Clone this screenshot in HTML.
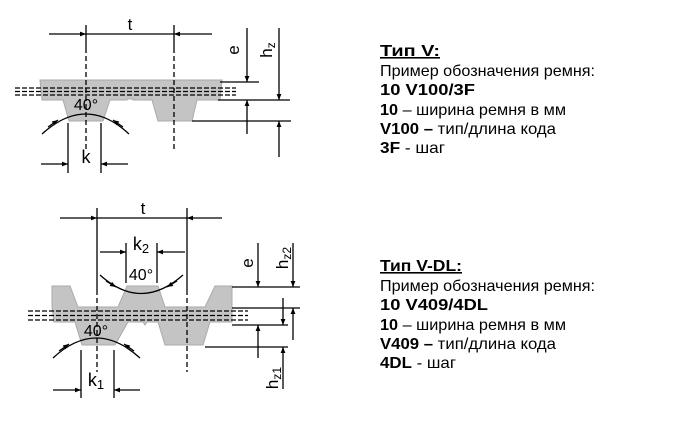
<!DOCTYPE html>
<html><head><meta charset="utf-8"><style>
html,body{margin:0;padding:0;background:#fff;}
svg{display:block}
text{font-family:"Liberation Sans",sans-serif;}
</style></head><body>
<svg width="683" height="428" viewBox="0 0 683 428" xmlns="http://www.w3.org/2000/svg">
<defs>
<marker id="a" viewBox="0 0 10 10" refX="10" refY="5" markerWidth="8" markerHeight="6" orient="auto-start-reverse" markerUnits="userSpaceOnUse"><path d="M0,1 L10,5 L0,9 z" fill="#000"/></marker>
</defs>
<g stroke="#000" stroke-width="1.3" fill="none">
<polygon points="40,80 222,80 220,100 197,100 192,121 158,121 152,100 133,100 133,99 127,99 127,100 110,100 103,121 69,121 63,100 42,100" fill="#c4c4c4" stroke="#aaa" stroke-width="1"/>
<line x1="15" y1="88" x2="236" y2="88" stroke-dasharray="5,2"/>
<line x1="15" y1="91.5" x2="236" y2="91.5" stroke-dasharray="5,2"/>
<line x1="15" y1="95" x2="236" y2="95" stroke-dasharray="5,2"/>
<line x1="86" y1="25" x2="86" y2="48"/>
<line x1="86" y1="48" x2="86" y2="150" stroke-dasharray="5,3"/>
<line x1="174" y1="25" x2="174" y2="48"/>
<line x1="174" y1="48" x2="174" y2="150" stroke-dasharray="5,3"/>
<line x1="49" y1="34" x2="86" y2="34" marker-end="url(#a)"/>
<line x1="86" y1="34" x2="174" y2="34"/>
<line x1="212" y1="34" x2="174" y2="34" marker-end="url(#a)"/>
<path d="M42,134 Q86,94 129,134"/>
<path d="M48,127 L58,120" marker-end="url(#a)"/>
<path d="M123,127 L113,120" marker-end="url(#a)"/>
<line x1="68" y1="123" x2="68" y2="173"/>
<line x1="101" y1="123" x2="101" y2="173"/>
<line x1="41" y1="164" x2="68" y2="164" marker-end="url(#a)"/>
<line x1="128" y1="164" x2="101" y2="164" marker-end="url(#a)"/>
<line x1="220" y1="82" x2="259" y2="82"/>
<line x1="218" y1="100" x2="290" y2="100"/>
<line x1="192" y1="121" x2="291" y2="121"/>
<line x1="247" y1="28" x2="247" y2="82" marker-end="url(#a)"/>
<line x1="247" y1="134" x2="247" y2="100" marker-end="url(#a)"/>
<line x1="279" y1="28" x2="279" y2="100" marker-end="url(#a)"/>
<line x1="279" y1="157" x2="279" y2="121" marker-end="url(#a)"/>
<polygon points="52,286 70,286 78,307 118,307 127,286 158,286 165,307 205,307 215,286 232,286 232,322 210,322 203,345 165,345 158,322 147,322 145,325 143,322 128,322 115,345 82,345 75,322 54,322 52,307" fill="#c4c4c4" stroke="#aaa" stroke-width="1"/>
<line x1="28" y1="311" x2="248" y2="311" stroke-dasharray="5,2"/>
<line x1="28" y1="315.5" x2="248" y2="315.5" stroke-dasharray="5,2"/>
<line x1="28" y1="320" x2="248" y2="320" stroke-dasharray="5,2"/>
<line x1="97" y1="208" x2="97" y2="290"/>
<line x1="97" y1="290" x2="97" y2="372" stroke-dasharray="5,3"/>
<line x1="187" y1="208" x2="187" y2="290"/>
<line x1="187" y1="290" x2="187" y2="372" stroke-dasharray="5,3"/>
<line x1="60" y1="218" x2="97" y2="218" marker-end="url(#a)"/>
<line x1="97" y1="218" x2="187" y2="218"/>
<line x1="222" y1="218" x2="187" y2="218" marker-end="url(#a)"/>
<line x1="126" y1="243" x2="126" y2="283"/>
<line x1="157" y1="243" x2="157" y2="283"/>
<line x1="100" y1="252" x2="126" y2="252" marker-end="url(#a)"/>
<line x1="185" y1="252" x2="157" y2="252" marker-end="url(#a)"/>
<path d="M100,275 Q141,312 183,275"/>
<path d="M106,281 L116,287" marker-end="url(#a)"/>
<path d="M177,281 L167,287" marker-end="url(#a)"/>
<path d="M53,358 Q96,318 140,358"/>
<path d="M59,351 L69,344" marker-end="url(#a)"/>
<path d="M134,351 L124,344" marker-end="url(#a)"/>
<line x1="81" y1="350" x2="81" y2="398"/>
<line x1="114" y1="350" x2="114" y2="398"/>
<line x1="53" y1="390" x2="81" y2="390" marker-end="url(#a)"/>
<line x1="140" y1="390" x2="114" y2="390" marker-end="url(#a)"/>
<line x1="232" y1="287" x2="300" y2="287"/>
<line x1="232" y1="308" x2="300" y2="308"/>
<line x1="232" y1="325" x2="288" y2="325"/>
<line x1="205" y1="347" x2="288" y2="347"/>
<line x1="258" y1="243" x2="258" y2="287" marker-end="url(#a)"/>
<line x1="258" y1="358" x2="258" y2="325" marker-end="url(#a)"/>
<line x1="293" y1="243" x2="293" y2="287" marker-end="url(#a)"/>
<line x1="293" y1="340" x2="293" y2="308" marker-end="url(#a)"/>
<line x1="283" y1="298" x2="283" y2="325" marker-end="url(#a)"/>
<line x1="283" y1="389" x2="283" y2="347" marker-end="url(#a)"/>
</g>
<g font-size="17" fill="#000">
<text x="130" y="30" text-anchor="middle">t</text>
<text x="86" y="110" text-anchor="middle" font-size="16">40°</text>
<text x="86" y="163" text-anchor="middle" font-size="18">k</text>
<text transform="translate(239,50) rotate(-90)" text-anchor="middle">e</text>
<text transform="translate(272,50) rotate(-90)" text-anchor="middle">h<tspan font-size="12" dy="3">z</tspan></text>
<text x="143" y="214" text-anchor="middle">t</text>
<text x="141" y="250" text-anchor="middle" font-size="18">k<tspan font-size="13" dy="3">2</tspan></text>
<text x="141" y="280" text-anchor="middle" font-size="16">40°</text>
<text x="96" y="336" text-anchor="middle" font-size="16">40°</text>
<text x="96" y="386" text-anchor="middle" font-size="18">k<tspan font-size="13" dy="3">1</tspan></text>
<text transform="translate(253,263) rotate(-90)" text-anchor="middle">e</text>
<text transform="translate(288,258) rotate(-90)" text-anchor="middle">h<tspan font-size="12" dy="3">z2</tspan></text>
<text transform="translate(278,378) rotate(-90)" text-anchor="middle">h<tspan font-size="12" dy="3">z1</tspan></text>
</g>
<g font-size="16" fill="#000">
<text x="380" y="56" font-weight="bold" text-decoration="underline" textLength="60" lengthAdjust="spacingAndGlyphs">Тип V:</text>
<text x="380" y="76" textLength="215" lengthAdjust="spacingAndGlyphs">Пример обозначения ремня:</text>
<text x="380" y="95" font-weight="bold" textLength="95" lengthAdjust="spacingAndGlyphs">10 V100/3F</text>
<text x="380" y="115" textLength="186" lengthAdjust="spacingAndGlyphs"><tspan font-weight="bold">10</tspan> – ширина ремня в мм</text>
<text x="380" y="134" textLength="176" lengthAdjust="spacingAndGlyphs"><tspan font-weight="bold">V100 –</tspan> тип/длина кода</text>
<text x="380" y="153" textLength="65" lengthAdjust="spacingAndGlyphs"><tspan font-weight="bold">3F</tspan> - шаг</text>
<text x="380" y="271" font-weight="bold" text-decoration="underline" textLength="82" lengthAdjust="spacingAndGlyphs">Тип V-DL:</text>
<text x="380" y="291" textLength="215" lengthAdjust="spacingAndGlyphs">Пример обозначения ремня:</text>
<text x="380" y="310" font-weight="bold" textLength="108" lengthAdjust="spacingAndGlyphs">10 V409/4DL</text>
<text x="380" y="330" textLength="186" lengthAdjust="spacingAndGlyphs"><tspan font-weight="bold">10</tspan> – ширина ремня в мм</text>
<text x="380" y="349" textLength="176" lengthAdjust="spacingAndGlyphs"><tspan font-weight="bold">V409 –</tspan> тип/длина кода</text>
<text x="380" y="368" textLength="76" lengthAdjust="spacingAndGlyphs"><tspan font-weight="bold">4DL</tspan> - шаг</text>
</g>
</svg>
</body></html>
